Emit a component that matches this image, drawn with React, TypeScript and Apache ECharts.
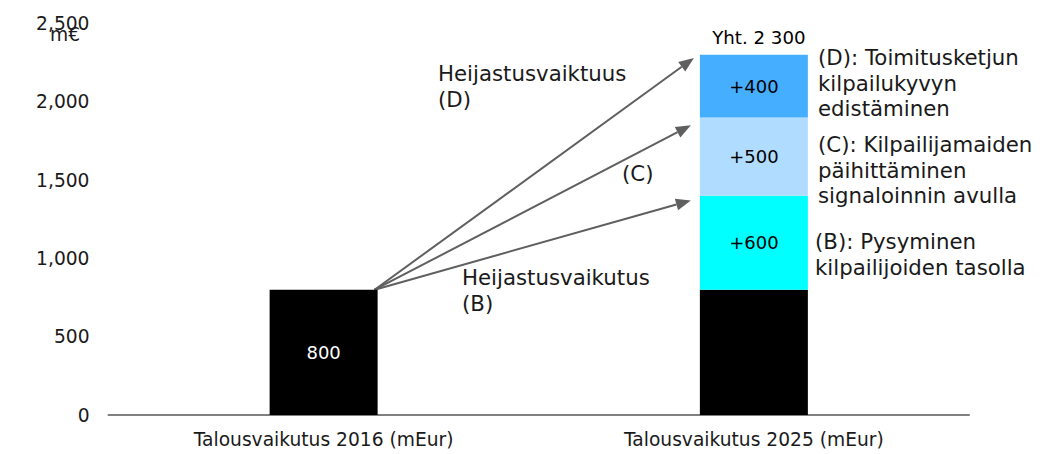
import React, { useEffect, useRef } from 'react';
import * as echarts from 'echarts';

const categories = ['Talousvaikutus 2016 (mEur)', 'Talousvaikutus 2025 (mEur)'];
const baseValues = [800, 800];
const bValues = [null, 600];
const cValues = [null, 500];
const dValues = [null, 400];
const totalValues = [null, 2300];
const totalLabel = 'Yht. 2 300';
const yUnit = 'm€';
const arrowTargets = [2280, 1850, 1370]; // D, C, B arrow tips (value)
const leftNotes = [
  { text: 'Heijastusvaiktuus\n(D)', x: 438, y: 61 },
  { text: '(C)', x: 622, y: 161 },
  { text: 'Heijastusvaikutus\n(B)', x: 462, y: 265 },
];
const rightNotes = [
  { text: '(D): Toimitusketjun\nkilpailukyvyn\nedistäminen', x: 818, y: 45 },
  { text: '(C): Kilpailijamaiden\npäihittäminen\nsignaloinnin avulla', x: 818, y: 132 },
  { text: '(B): Pysyminen\nkilpailijoiden tasolla', x: 815, y: 229 },
];

const FONT = '"DejaVu Sans", Verdana, sans-serif';
const BAR_W = 108;

export default function App() {
  const ref = useRef<HTMLDivElement>(null);
  useEffect(() => {
    if (!ref.current) return;
    const chart = echarts.init(ref.current, undefined, { renderer: 'svg' });
    const segLabel = (color: string) => ({
      show: true,
      position: 'inside',
      color,
      fontFamily: FONT,
      fontSize: 18,
      formatter: (p: any) => (p.value == null ? '' : '+' + p.value),
    });
    chart.setOption({
      animation: false,
      grid: { left: 108.5, right: 90, top: 23.5, bottom: 39, containLabel: false },
      xAxis: {
        type: 'category',
        data: categories,
        axisTick: { show: false },
        axisLine: { lineStyle: { color: '#808080', width: 2 } },
        axisLabel: { color: '#1a1a1a', fontFamily: FONT, fontSize: 18.67, margin: 15 },
      },
      yAxis: {
        type: 'value',
        min: 0,
        max: 2500,
        interval: 500,
        splitLine: { show: false },
        axisLine: { show: false },
        axisTick: { show: false },
        axisLabel: {
          color: '#1a1a1a',
          fontFamily: FONT,
          fontSize: 18.67,
          margin: 19,
          formatter: (v: number) => v.toLocaleString('en-US'),
        },
      },
      series: [
        {
          type: 'bar',
          stack: 'total',
          barWidth: BAR_W,
          data: baseValues,
          itemStyle: { color: '#000000' },
          label: {
            show: true,
            position: 'inside',
            color: '#ffffff',
            fontFamily: FONT,
            fontSize: 18,
            formatter: (p: any) => (p.dataIndex === 0 ? String(p.value) : ''),
          },
        },
        { type: 'bar', stack: 'total', barWidth: BAR_W, data: bValues, itemStyle: { color: '#00ffff' }, label: segLabel('#000') },
        { type: 'bar', stack: 'total', barWidth: BAR_W, data: cValues, itemStyle: { color: '#b0ddff' }, label: segLabel('#000') },
        { type: 'bar', stack: 'total', barWidth: BAR_W, data: dValues, itemStyle: { color: '#46aeff' }, label: segLabel('#000') },
        {
          type: 'scatter',
          data: totalValues,
          symbol: 'circle',
          symbolSize: 1,
          itemStyle: { color: '#ffffff', opacity: 0 },
          label: {
            show: true,
            position: 'top',
            distance: 8,
            offset: [5, 0],
            color: '#000000',
            opacity: 1,
            fontFamily: FONT,
            fontSize: 18.2,
            formatter: () => totalLabel,
          },
        },
      ],
    });

    const p0 = chart.convertToPixel({ xAxisIndex: 0, yAxisIndex: 0 }, [0, baseValues[0]]) as number[];
    const c1 = chart.convertToPixel({ xAxisIndex: 0, yAxisIndex: 0 }, [1, 0]) as number[];
    const sx = p0[0] + BAR_W / 2 - 3;
    const sy = p0[1];
    const graphics: any[] = [];
    arrowTargets.forEach((v, i) => {
      const t = chart.convertToPixel({ xAxisIndex: 0, yAxisIndex: 0 }, [1, v]) as number[];
      const ex = c1[0] - BAR_W / 2 - (i === 0 ? 6 : 9);
      const ey = t[1];
      const dx = ex - sx;
      const dy = ey - sy;
      const len = Math.sqrt(dx * dx + dy * dy);
      const ux = dx / len;
      const uy = dy / len;
      const hl = 15;
      const hw = 6;
      const bx = ex - ux * hl;
      const by = ey - uy * hl;
      graphics.push({
        type: 'line',
        shape: { x1: sx, y1: sy, x2: bx, y2: by },
        style: { stroke: '#5f5f5f', lineWidth: 2 },
      });
      graphics.push({
        type: 'polygon',
        shape: {
          points: [
            [ex, ey],
            [bx - uy * hw, by + ux * hw],
            [bx + uy * hw, by - ux * hw],
          ],
        },
        style: { fill: '#5f5f5f' },
      });
    });
    const note = (n: { text: string; x: number; y: number }) => ({
      type: 'text',
      x: n.x,
      y: n.y,
      style: {
        text: n.text,
        font: `21.3px ${FONT}`,
        fill: '#1a1a1a',
        lineHeight: 25.5,
        verticalAlign: 'top',
        align: 'left',
      },
    });
    leftNotes.forEach((n) => graphics.push(note(n)));
    rightNotes.forEach((n) => graphics.push(note(n)));
    graphics.push({
      type: 'text',
      x: 50,
      y: 25,
      style: { text: yUnit, font: `18.67px ${FONT}`, fill: '#1a1a1a', verticalAlign: 'top' },
    });
    chart.setOption({ graphic: graphics });
    return () => chart.dispose();
  }, []);
  return (
    <div
      ref={ref}
      style={{ position: 'absolute', left: 0, top: 0, width: 1059, height: 454 }}
    />
  );
}
